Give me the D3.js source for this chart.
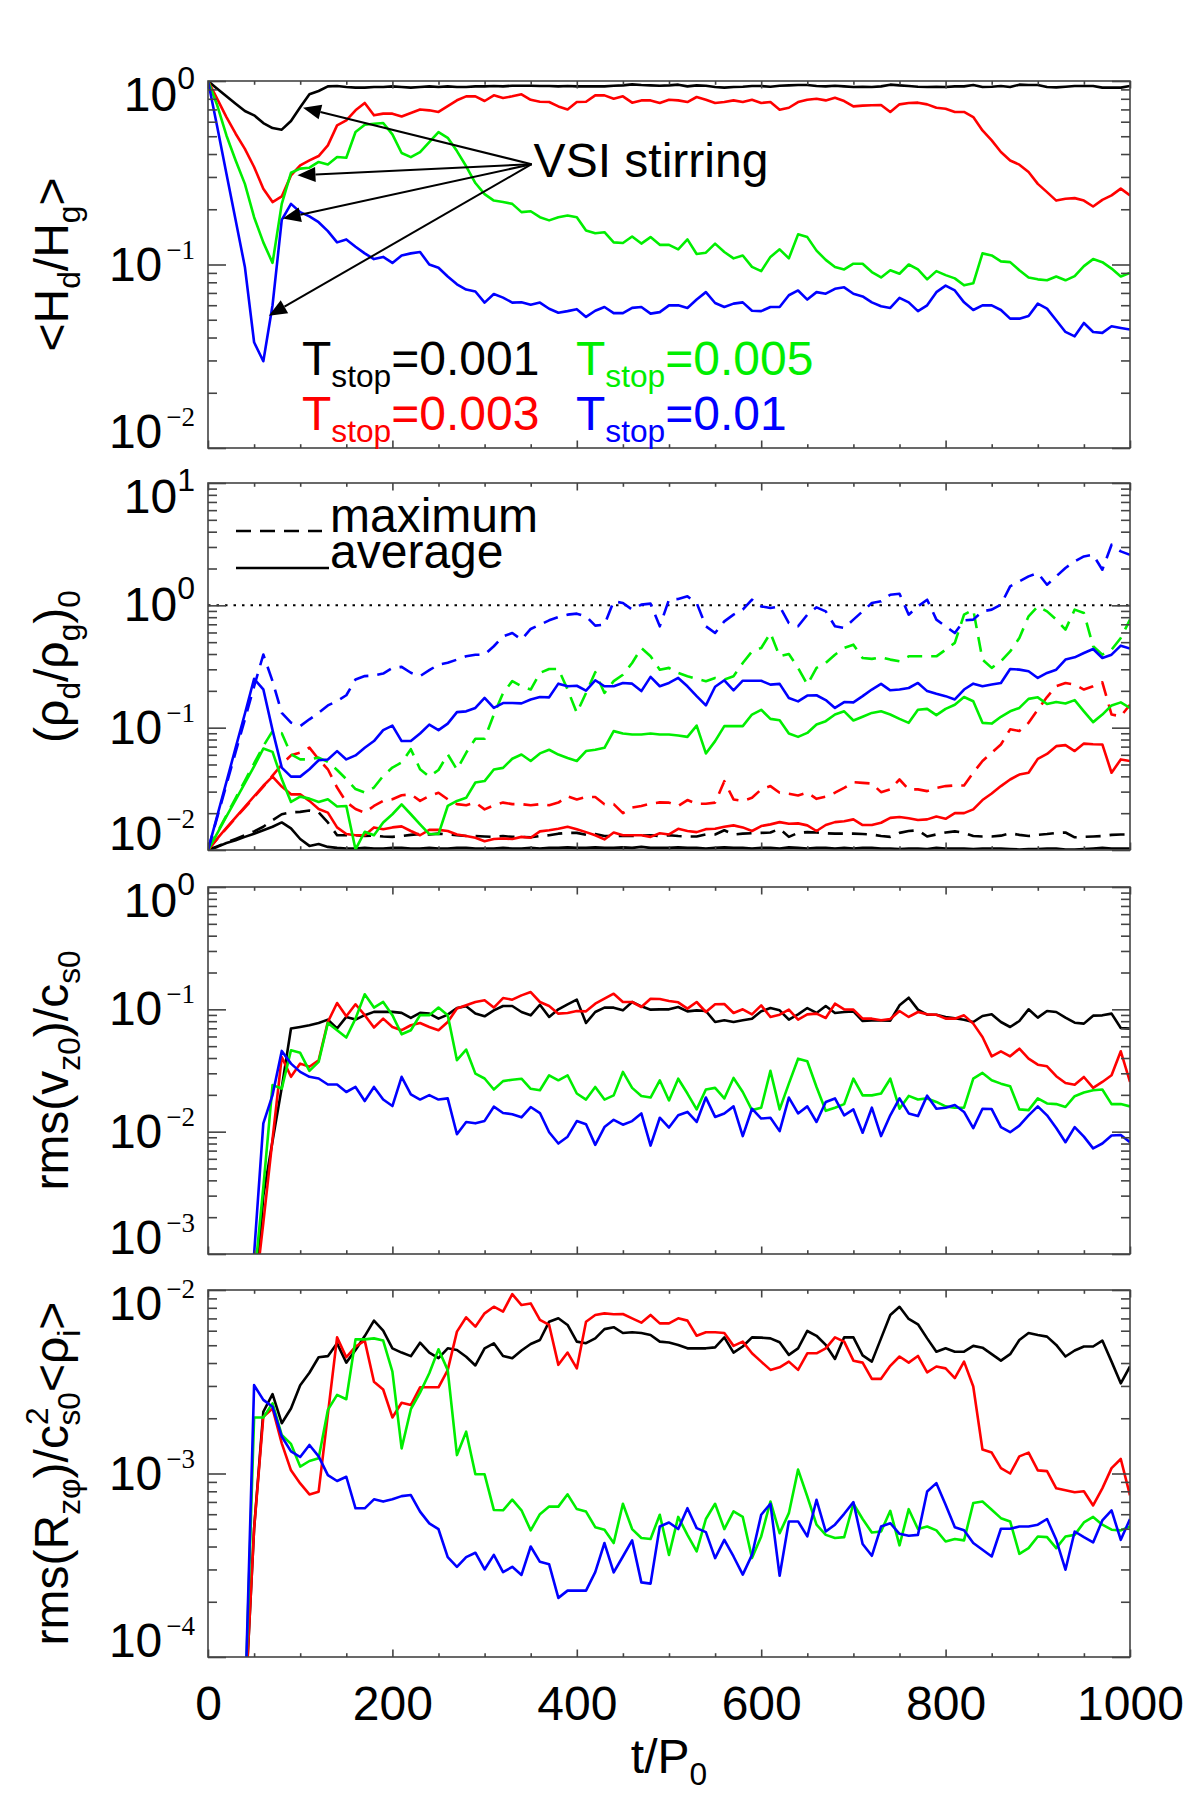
<!DOCTYPE html>
<html><head><meta charset="utf-8">
<script src="https://cdn.jsdelivr.net/npm/d3@7"></script>
<style>
body{margin:0;background:#fff;}
text{font-family:"Liberation Sans", Arial, Helvetica, sans-serif;fill:#000;}
</style></head>
<body><svg id="chart" width="1200" height="1800"></svg>
<script>
// ---------------- DATA ----------------
const time = [0,10,20,30,40,50,60,70,80,90,100,110,120,130,140,150,160,170,180,190,200,210,220,230,240,250,260,270,280,290,300,310,320,330,340,350,360,370,380,390,400,410,420,430,440,450,460,470,480,490,500,510,520,530,540,550,560,570,580,590,600,610,620,630,640,650,660,670,680,690,700,710,720,730,740,750,760,770,780,790,800,810,820,830,840,850,860,870,880,890,900,910,920,930,940,950,960,970,980,990,1000];
const xTickLabels = [0,200,400,600,800,1000];
const yExponents = [[-2,-1,0],[-2,-1,0,1],[-3,-2,-1,0],[-4,-3,-2]];
const legendLabels = ["0.001","0.003","0.005","0.01"];

// Panel 1: <Hd/Hg>
const hdBlack = [1.0,0.908,0.825,0.752,0.686,0.65,0.59,0.554,0.543,0.605,
0.72,0.846,0.882,0.935,0.939,0.927,0.92,0.92,0.927,0.927,
0.935,0.927,0.92,0.927,0.935,0.927,0.935,0.927,0.927,0.935,
0.935,0.939,0.935,0.943,0.943,0.943,0.939,0.939,0.935,0.939,
0.935,0.935,0.935,0.935,0.943,0.947,0.959,0.951,0.947,0.943,
0.947,0.955,0.935,0.947,0.943,0.927,0.92,0.927,0.931,0.939,
0.939,0.931,0.943,0.947,0.951,0.951,0.939,0.935,0.943,0.935,
0.927,0.931,0.927,0.935,0.955,0.947,0.939,0.931,0.927,0.931,
0.927,0.935,0.935,0.951,0.927,0.931,0.939,0.927,0.955,0.951,
0.951,0.927,0.923,0.931,0.939,0.939,0.939,0.92,0.92,0.92,
0.939];
const hdRed = [1.0,0.80,0.636,0.516,0.427,0.34,0.259,0.219,0.235,0.306,
0.347,0.369,0.39,0.446,0.573,0.61,0.692,0.759,0.65,0.664,
0.664,0.641,0.669,0.70,0.692,0.678,0.73,0.785,0.825,0.825,
0.778,0.835,0.808,0.825,0.846,0.79,0.771,0.768,0.727,0.70,
0.768,0.771,0.835,0.835,0.80,0.825,0.762,0.784,0.784,0.759,
0.791,0.784,0.768,0.818,0.791,0.759,0.768,0.784,0.768,0.791,
0.759,0.768,0.698,0.715,0.768,0.791,0.80,0.784,0.811,0.778,
0.727,0.734,0.737,0.74,0.678,0.746,0.759,0.762,0.746,0.715,
0.706,0.678,0.678,0.636,0.538,0.475,0.41,0.369,0.35,0.319,
0.275,0.248,0.223,0.228,0.23,0.223,0.207,0.225,0.238,0.259,
0.238];
const hdGreen = [1.0,0.737,0.505,0.369,0.275,0.181,0.132,0.102,0.214,0.316,
0.333,0.337,0.362,0.351,0.385,0.382,0.527,0.578,0.585,0.59,
0.512,0.405,0.385,0.41,0.465,0.527,0.49,0.415,0.343,0.278,
0.242,0.223,0.219,0.214,0.193,0.195,0.181,0.174,0.181,0.185,
0.181,0.153,0.148,0.15,0.132,0.131,0.142,0.13,0.141,0.128,
0.128,0.121,0.137,0.114,0.116,0.13,0.117,0.108,0.112,0.097,
0.092,0.11,0.121,0.108,0.146,0.141,0.119,0.106,0.097,0.094,
0.101,0.101,0.091,0.085,0.093,0.089,0.1,0.094,0.083,0.092,
0.0875,0.084,0.077,0.079,0.115,0.112,0.104,0.103,0.093,0.085,
0.083,0.082,0.086,0.082,0.0865,0.098,0.107,0.103,0.095,0.086,
0.09];
const hdBlue = [1.0,0.563,0.312,0.174,0.097,0.0377,0.0297,0.06,0.175,0.214,
0.193,0.183,0.17,0.152,0.132,0.137,0.125,0.115,0.107,0.11,
0.102,0.112,0.115,0.117,0.10,0.096,0.086,0.078,0.073,0.0713,
0.062,0.069,0.066,0.062,0.0623,0.0604,0.062,0.0574,0.0546,0.0557,
0.0571,0.0518,0.056,0.0587,0.0543,0.0543,0.058,0.0587,0.054,0.055,
0.0599,0.0599,0.058,0.0644,0.0707,0.0617,0.0587,0.0612,0.0622,0.056,
0.0557,0.0587,0.0587,0.068,0.0722,0.0644,0.0707,0.0693,0.0737,0.0751,
0.0693,0.067,0.0622,0.0592,0.058,0.0658,0.0622,0.0557,0.0599,0.0707,
0.0767,0.0722,0.0622,0.0565,0.0599,0.0599,0.0565,0.0507,0.0507,0.0524,
0.0612,0.0575,0.0497,0.0429,0.0406,0.048,0.0429,0.0424,0.0461,0.0451,
0.0442];

// Panel 2: (rho_d/rho_g)_0  average (solid) and maximum (dashed)
const rhoAvgBlack = [0.01,0.0106,0.0114,0.012,0.0128,0.0136,0.0145,0.0155,0.0168,0.015,
0.0123,0.0108,0.0112,0.0106,0.0104,0.0103,0.0103,0.0104,0.0103,0.0103,
0.0104,0.0104,0.0103,0.0103,0.0104,0.0103,0.0103,0.0104,0.0104,0.0103,
0.0103,0.0103,0.0104,0.0103,0.0103,0.0104,0.0103,0.0104,0.0104,0.0105,
0.0104,0.0104,0.0105,0.0104,0.0104,0.0105,0.0104,0.0106,0.0104,0.0104,
0.0104,0.0105,0.0104,0.0104,0.0103,0.0104,0.0105,0.0104,0.0104,0.0103,
0.0104,0.0104,0.0103,0.0105,0.0104,0.0103,0.0104,0.0104,0.0103,0.0104,
0.0103,0.0104,0.0104,0.0103,0.0103,0.0102,0.0103,0.0103,0.0102,0.0104,
0.0103,0.0103,0.0103,0.0102,0.0103,0.0103,0.0103,0.0102,0.0101,0.0102,
0.0102,0.0103,0.0103,0.0101,0.0101,0.0102,0.0103,0.0104,0.0103,0.0103,
0.0103];
const rhoMaxBlack = [0.01,0.0107,0.0115,0.0123,0.0132,0.0142,0.0155,0.0175,0.0196,0.0203,
0.0205,0.021,0.0203,0.0168,0.0132,0.0132,0.0132,0.013,0.0131,0.0129,
0.0128,0.013,0.0133,0.0135,0.0134,0.0136,0.0134,0.0132,0.013,0.013,
0.0129,0.0128,0.013,0.0128,0.0128,0.0127,0.013,0.0132,0.0136,0.0138,
0.0138,0.0133,0.0135,0.013,0.013,0.013,0.013,0.0131,0.0132,0.013,
0.0132,0.013,0.0129,0.0129,0.0134,0.0134,0.0145,0.0134,0.0136,0.0137,
0.0138,0.0139,0.0149,0.0128,0.0138,0.014,0.0139,0.0137,0.0136,0.0136,
0.0136,0.0135,0.0134,0.013,0.0128,0.0138,0.0143,0.0145,0.0129,0.0134,
0.0139,0.0142,0.0138,0.013,0.0129,0.0129,0.0131,0.0137,0.0133,0.013,
0.0133,0.0135,0.0138,0.0139,0.0127,0.0128,0.0129,0.013,0.0133,0.0134,
0.0134];
const rhoAvgRed = [0.01,0.0124,0.0152,0.0185,0.0225,0.0275,0.0335,0.0398,0.033,0.0285,
0.0285,0.0252,0.0216,0.0202,0.0153,0.0135,0.0132,0.0132,0.0153,0.0148,
0.0153,0.0156,0.0143,0.0132,0.0146,0.0146,0.0143,0.0134,0.013,0.0126,
0.0118,0.0123,0.0124,0.0123,0.0128,0.0126,0.0142,0.0145,0.0149,0.0155,
0.0148,0.014,0.0132,0.0122,0.0139,0.0132,0.0132,0.0132,0.0128,0.0137,
0.0134,0.0149,0.0143,0.014,0.0148,0.0149,0.0155,0.0159,0.0153,0.0143,
0.0157,0.0162,0.0169,0.0164,0.0165,0.0159,0.0143,0.016,0.0169,0.0172,
0.0178,0.016,0.016,0.0167,0.0183,0.0186,0.0182,0.0176,0.0178,0.0188,
0.018,0.02,0.02,0.0215,0.0256,0.029,0.0333,0.0377,0.0414,0.0428,
0.0556,0.061,0.0706,0.072,0.0644,0.0741,0.0732,0.0729,0.0428,0.055,
0.0534];
const rhoMaxRed = [0.01,0.0123,0.015,0.0183,0.0222,0.027,0.033,0.0405,0.05,0.0594,
0.0625,0.0687,0.0551,0.0457,0.0324,0.0247,0.0216,0.0202,0.0229,0.0252,
0.026,0.028,0.0285,0.0252,0.0277,0.0294,0.026,0.0237,0.0232,0.0244,
0.0215,0.0232,0.0244,0.0237,0.0237,0.0232,0.0237,0.0232,0.0244,0.0275,
0.0259,0.0271,0.0271,0.0237,0.0237,0.02,0.0222,0.0229,0.0239,0.0245,
0.0244,0.0229,0.0256,0.0239,0.0239,0.0244,0.0365,0.0259,0.0252,0.0267,
0.0313,0.0333,0.0294,0.0288,0.0279,0.0294,0.0262,0.0273,0.0294,0.0322,
0.0358,0.0354,0.0349,0.0297,0.0313,0.0377,0.0313,0.0313,0.0303,0.0322,
0.0333,0.0337,0.0337,0.0428,0.0534,0.0623,0.0728,0.0969,0.094,0.1095,
0.1404,0.178,0.218,0.232,0.225,0.205,0.218,0.235,0.128,0.124,
0.154];
const rhoAvgGreen = [0.01,0.0137,0.0188,0.0257,0.0352,0.0483,0.0675,0.0634,0.038,0.0247,
0.0273,0.0263,0.0247,0.026,0.0227,0.0229,0.0101,0.0141,0.0132,0.0168,
0.0196,0.0236,0.0196,0.0162,0.0135,0.0135,0.0229,0.0252,0.0267,0.0356,
0.0366,0.0455,0.0469,0.0557,0.0603,0.0534,0.0616,0.066,0.0603,0.0566,
0.0534,0.0644,0.066,0.0684,0.0937,0.0896,0.0879,0.0879,0.0896,0.0879,
0.0879,0.0862,0.0841,0.104,0.0616,0.0776,0.103,0.103,0.103,0.128,
0.14,0.118,0.115,0.0896,0.0841,0.0906,0.106,0.113,0.128,0.136,
0.1145,0.1227,0.132,0.136,0.128,0.118,0.1095,0.14,0.1424,0.1265,
0.1424,0.154,0.178,0.1645,0.1095,0.108,0.1227,0.136,0.145,0.172,
0.177,0.156,0.162,0.1575,0.168,0.136,0.111,0.128,0.152,0.161,
0.145];
const rhoMaxGreen = [0.01,0.0139,0.0192,0.0266,0.0368,0.051,0.0707,0.0937,0.09,0.0605,
0.0551,0.0551,0.0569,0.0525,0.0451,0.038,0.0315,0.0295,0.0324,0.0404,
0.0472,0.0519,0.0667,0.0457,0.0398,0.0451,0.0605,0.0455,0.0623,0.0811,
0.0811,0.128,0.192,0.24,0.218,0.205,0.28,0.302,0.302,0.205,
0.132,0.192,0.284,0.192,0.24,0.271,0.338,0.448,0.383,0.298,
0.308,0.28,0.263,0.25,0.24,0.255,0.247,0.263,0.338,0.42,
0.448,0.594,0.383,0.40,0.308,0.225,0.308,0.338,0.395,0.448,
0.477,0.371,0.365,0.376,0.36,0.349,0.383,0.383,0.383,0.383,
0.434,0.493,0.839,0.922,0.36,0.308,0.349,0.42,0.541,0.813,
0.981,0.893,0.764,0.633,0.922,0.866,0.463,0.395,0.434,0.541,
0.764];
const rhoAvgBlue = [0.01,0.019,0.0361,0.0686,0.13,0.251,0.206,0.0955,0.0471,0.0398,
0.0398,0.0457,0.0542,0.055,0.0643,0.055,0.0593,0.0685,0.0777,0.0955,
0.104,0.0777,0.0777,0.0897,0.106,0.0955,0.108,0.134,0.136,0.145,
0.175,0.145,0.159,0.159,0.158,0.17,0.178,0.177,0.229,0.218,
0.22,0.201,0.244,0.218,0.218,0.232,0.229,0.199,0.26,0.218,
0.232,0.255,0.218,0.181,0.152,0.216,0.244,0.202,0.242,0.242,
0.242,0.225,0.228,0.175,0.164,0.183,0.184,0.168,0.145,0.162,
0.161,0.181,0.205,0.228,0.202,0.205,0.211,0.232,0.199,0.189,
0.181,0.17,0.205,0.229,0.218,0.225,0.232,0.302,0.298,0.289,
0.255,0.28,0.298,0.36,0.376,0.408,0.44,0.371,0.395,0.468,
0.443];
const rhoMaxBlue = [0.01,0.0185,0.0342,0.0633,0.117,0.217,0.396,0.24,0.132,0.11,
0.103,0.117,0.132,0.152,0.165,0.184,0.248,0.264,0.267,0.277,
0.308,0.314,0.281,0.264,0.295,0.328,0.339,0.36,0.383,0.395,
0.395,0.463,0.558,0.594,0.524,0.641,0.695,0.754,0.803,0.839,
0.855,0.813,0.682,0.695,1.078,1.045,0.922,1.013,1.032,0.674,
1.112,1.126,1.184,1.045,0.674,0.594,0.74,0.839,0.922,1.112,
0.981,0.951,0.981,0.717,0.674,0.839,0.963,0.893,0.674,0.653,
0.764,0.893,1.045,1.078,1.222,1.245,0.839,0.981,1.112,0.764,
0.674,0.594,0.754,0.764,0.893,0.922,1.013,1.43,1.57,1.725,
1.836,1.475,1.725,2.02,2.29,2.51,2.59,1.955,3.13,2.76,
2.59];

// Panel 3: rms(vz0)/cs0
const vzBlack = [null,null,null,null,0.00001,0.0003,0.003,0.0084,0.0229,0.0697,
0.0718,0.0741,0.0774,0.0824,0.0697,0.0867,0.0824,0.0896,0.0953,0.0953,
0.0953,0.0935,0.0851,0.0935,0.0923,0.084,0.0905,0.1026,0.1059,0.0923,
0.0877,0.0981,0.1065,0.1065,0.0951,0.0893,0.109,0.0866,0.1,0.1099,
0.12,0.0773,0.0951,0.1032,0.1032,0.0981,0.1148,0.1058,0.0994,0.1,
0.1,0.1045,0.0963,0.0981,0.0969,0.0788,0.0813,0.0788,0.0813,0.0839,
0.0963,0.1025,0.0981,0.0823,0.091,0.1025,0.0934,0.1065,0.0934,0.0951,
0.0963,0.0803,0.0813,0.0813,0.0808,0.1078,0.1245,0.0994,0.0904,0.0904,
0.0866,0.0845,0.0823,0.0788,0.0882,0.091,0.0788,0.0717,0.0803,0.1,
0.0855,0.0969,0.0951,0.0855,0.0778,0.0764,0.0888,0.0893,0.0922,0.0704,
0.0695];
const vzRed = [null,null,null,null,0.00001,0.0004,0.0018,0.0087,0.0408,0.0281,
0.036,0.0339,0.0384,0.0789,0.1127,0.0877,0.110,0.0896,0.071,0.084,
0.0718,0.0675,0.0741,0.0774,0.0718,0.0675,0.0789,0.1014,0.108,0.115,
0.1187,0.1033,0.1237,0.1199,0.1301,0.1385,0.1148,0.1065,0.0922,0.0934,
0.0969,0.0963,0.1112,0.1222,0.1342,0.1148,0.1148,0.1045,0.1222,0.1214,
0.117,0.1141,0.1013,0.1148,0.0951,0.1099,0.1106,0.0934,0.1,0.091,
0.1078,0.0866,0.0904,0.0994,0.0823,0.091,0.0922,0.085,0.1112,0.1,
0.0994,0.0839,0.0839,0.0813,0.0834,0.0969,0.0866,0.0951,0.091,0.0904,
0.0839,0.0839,0.0893,0.0764,0.0594,0.0413,0.0454,0.0413,0.0477,0.0395,
0.0353,0.0342,0.0284,0.025,0.0242,0.028,0.0228,0.0255,0.0289,0.0454,
0.0255];
const vzGreen = [null,null,null,null,0.00001,0.0006,0.0035,0.024,0.0225,0.0463,
0.0441,0.0314,0.0372,0.0774,0.0675,0.0588,0.084,0.1328,0.1033,0.115,
0.0896,0.0625,0.0675,0.0896,0.0896,0.1033,0.0896,0.0384,0.0469,0.0298,
0.0272,0.0221,0.0259,0.0266,0.0271,0.0224,0.0218,0.0289,0.0263,0.0289,
0.0205,0.0183,0.0232,0.0183,0.0198,0.0308,0.0228,0.0196,0.019,0.0263,
0.018,0.0271,0.0205,0.0152,0.0221,0.0228,0.0187,0.0275,0.0211,0.015,
0.0157,0.0314,0.0152,0.0247,0.0395,0.0376,0.0232,0.0148,0.0157,0.0168,
0.0271,0.0198,0.0198,0.0205,0.0271,0.0154,0.0196,0.0183,0.0187,0.0175,
0.0161,0.0157,0.0157,0.0271,0.0302,0.0263,0.0247,0.0235,0.0152,0.015,
0.0187,0.017,0.0168,0.0159,0.0195,0.0209,0.0218,0.0221,0.0168,0.0168,
0.0161];
const vzBlue = [null,null,null,null,0.00001,0.001,0.0117,0.0199,0.0457,0.036,
0.0308,0.0281,0.0272,0.0243,0.0243,0.0211,0.0232,0.0178,0.0232,0.0183,
0.0162,0.0281,0.0202,0.0183,0.0199,0.0183,0.0187,0.00953,0.012,0.0117,
0.01225,0.016,0.0142,0.0139,0.0131,0.0159,0.0142,0.0099,0.008,0.0091,
0.0122,0.0115,0.0078,0.0109,0.0125,0.0114,0.0122,0.0141,0.0077,0.013,
0.0108,0.0136,0.0145,0.012,0.019,0.0132,0.0141,0.0161,0.0092,0.0154,
0.0128,0.013,0.0101,0.019,0.0141,0.0161,0.012,0.0175,0.0187,0.0136,
0.0152,0.0098,0.0157,0.0092,0.0136,0.0187,0.0141,0.0134,0.0197,0.0154,
0.0157,0.0165,0.0145,0.0107,0.0154,0.0153,0.0109,0.0099,0.0112,0.0136,
0.0161,0.0136,0.0107,0.0082,0.0109,0.0091,0.0073,0.008,0.0093,0.0094,
0.0082];

// Panel 4: rms(R_zphi)/cs0^2<rho_i>
const rzBlack = [null,null,null,null,0.00005,0.0005,0.00217,0.00271,0.00188,0.00226,
0.00303,0.00354,0.0043,0.00436,0.00512,0.00402,0.00471,0.00561,0.00681,0.006,
0.00481,0.00456,0.00436,0.00516,0.00456,0.00425,0.00481,0.00471,0.00433,0.00388,
0.00481,0.00512,0.00437,0.00425,0.00468,0.00508,0.00534,0.00672,0.00701,0.00645,
0.00523,0.00513,0.00545,0.00612,0.00627,0.00583,0.00588,0.00583,0.00569,0.00523,
0.00517,0.00502,0.00481,0.00481,0.00481,0.00487,0.00552,0.00456,0.00492,0.00552,
0.0055,0.00545,0.00519,0.00443,0.00481,0.00598,0.00563,0.00502,0.00421,0.00552,
0.00552,0.0044,0.00407,0.00545,0.00731,0.0081,0.00695,0.0065,0.00545,0.00461,
0.00481,0.00461,0.00461,0.00496,0.00485,0.00447,0.00412,0.00447,0.00534,0.00583,
0.00569,0.00557,0.00502,0.00434,0.00468,0.00492,0.00492,0.0053,0.00407,0.0031,
0.00383];
const rzRed = [null,null,null,null,0.00005,0.0005,0.00204,0.00226,0.00146,0.00104,
0.000883,0.000769,0.000796,0.0021,0.00552,0.0043,0.00491,0.0053,0.00316,0.00287,
0.00202,0.00243,0.00236,0.00295,0.00295,0.00295,0.00366,0.00593,0.0071,0.00631,
0.00746,0.00811,0.00762,0.0095,0.00828,0.00845,0.00687,0.00645,0.00391,0.00456,
0.00374,0.00672,0.00731,0.00746,0.00737,0.0074,0.00701,0.00664,0.00731,0.00658,
0.00658,0.00701,0.00681,0.00563,0.00588,0.00588,0.00583,0.00496,0.00523,0.00452,
0.00407,0.00367,0.00379,0.00407,0.00367,0.00452,0.00452,0.00481,0.00552,0.00523,
0.00412,0.00402,0.00328,0.00328,0.00386,0.00434,0.00402,0.00437,0.00356,0.00383,
0.00374,0.00331,0.00407,0.00298,0.00135,0.0013,0.00107,0.001,0.00124,0.0013,
0.00104,0.00103,0.00083,0.00081,0.00079,0.0008,0.00067,0.00083,0.00107,0.0012,
0.00076];
const rzGreen = [null,null,null,null,0.00005,0.00202,0.00202,0.00241,0.00162,0.00145,
0.00109,0.00117,0.00121,0.00222,0.00268,0.00254,0.00538,0.00538,0.00545,0.0053,
0.00359,0.00137,0.00224,0.00276,0.00352,0.00475,0.00366,0.00126,0.00169,0.00099,
0.00099,0.000633,0.00063,0.00072,0.00063,0.00049,0.0006,0.00066,0.00066,0.00077,
0.00064,0.00062,0.00051,0.000494,0.000418,0.000684,0.000498,0.000445,0.00044,0.000596,
0.00036,0.00058,0.000463,0.000376,0.000565,0.000684,0.000498,0.000621,0.00058,0.000346,
0.000454,0.000704,0.000473,0.000608,0.00105,0.000749,0.000526,0.000463,0.000445,0.00045,
0.000684,0.000565,0.000477,0.000483,0.000626,0.000406,0.000639,0.000498,0.000514,0.00049,
0.000426,0.00044,0.000432,0.00069,0.000704,0.000634,0.000571,0.000548,0.000365,0.000392,
0.000454,0.00045,0.000392,0.000454,0.000463,0.000541,0.00058,0.000526,0.000494,0.00049,
0.000514];
const rzBlue = [null,null,null,null,0.00005,0.00303,0.00252,0.00231,0.00159,0.00132,
0.00123,0.00143,0.00124,0.00098,0.00091,0.00096,0.000646,0.000646,0.000723,0.000703,
0.000723,0.000753,0.000763,0.00062,0.000535,0.000497,0.00035,0.00031,0.00035,0.00037,
0.0003,0.00036,0.00029,0.00031,0.00028,0.0004,0.00033,0.00032,0.00021,0.00023,
0.00023,0.00023,0.00029,0.000418,0.000289,0.000353,0.000432,0.000255,0.000251,0.000514,
0.000541,0.000498,0.000647,0.000504,0.000479,0.000346,0.000435,0.000353,0.000281,0.00036,
0.000596,0.000684,0.000277,0.000548,0.000548,0.000454,0.000719,0.000483,0.000526,0.000603,
0.000698,0.000413,0.000356,0.000514,0.000536,0.000469,0.000458,0.000463,0.000798,0.000886,
0.000675,0.00051,0.00049,0.000418,0.000384,0.000353,0.0005,0.0005,0.000514,0.000514,
0.000526,0.000565,0.000435,0.000299,0.000483,0.00045,0.000421,0.000555,0.000629,0.000435,
0.000565];

// Annotation: "VSI stirring" arrows (data coordinates t, value in panel 1)
const arrowFrom = [351, 0.352];
const arrowTips = [[103, 0.715],[97, 0.306],[81, 0.178],[66, 0.0526]];

// ---------------- DRAWING ----------------
const svg = d3.select('#chart');
svg.append('rect').attr('width',1200).attr('height',1800).attr('fill','#fff');
const X0 = 208, X1 = 1130, PH = 367;
const tops = [81, 483, 887, 1290];
const FS = 48, SUBFS = 32;
const COL = {black:'#000000', red:'#ff0000', green:'#00ee00', blue:'#0000ff'};
const AXC = '#444';
const x = d3.scaleLinear().domain([0,1000]).range([X0, X1]);

function rich(sel, parts, size){
  let cur = 0;
  parts.forEach(p => {
    const off = p.sub ? size*0.25 : (p.sup ? -size*0.42 : 0);
    const ts = sel.append('tspan').text(p.t).attr('dy', off - cur)
      .attr('font-size', (p.sub || p.sup) ? size*0.66 : size);
    if (p.dx) ts.attr('dx', p.dx);
    cur = off;
  });
}

const panels = [
  {domain:[1e-2,1], title:[{t:'<H'},{t:'d',sub:1},{t:'/H'},{t:'g',sub:1},{t:'>'}],
   series:[{d:hdBlack,c:'black'},{d:hdRed,c:'red'},{d:hdGreen,c:'green'},{d:hdBlue,c:'blue'}]},
  {domain:[1e-2,10], title:[{t:'(\u03c1'},{t:'d',sub:1},{t:'/\u03c1'},{t:'g',sub:1},{t:')'},{t:'0',sub:1}],
   series:[{d:rhoAvgBlack,c:'black'},{d:rhoMaxBlack,c:'black',dash:1},
           {d:rhoAvgRed,c:'red'},{d:rhoMaxRed,c:'red',dash:1},
           {d:rhoAvgGreen,c:'green'},{d:rhoMaxGreen,c:'green',dash:1},
           {d:rhoAvgBlue,c:'blue'},{d:rhoMaxBlue,c:'blue',dash:1}]},
  {domain:[1e-3,1], title:[{t:'rms(v'},{t:'z0',sub:1},{t:')/c'},{t:'s0',sub:1}],
   series:[{d:vzBlack,c:'black'},{d:vzRed,c:'red'},{d:vzGreen,c:'green'},{d:vzBlue,c:'blue'}]},
  {domain:[1e-4,1e-2], title:[{t:'rms(R'},{t:'z\u03c6',sub:1},{t:')/c'},{t:'2',sup:1},{t:'s0',sub:1,dx:-18},{t:'<\u03c1'},{t:'i',sub:1},{t:'>'}],
   series:[{d:rzBlack,c:'black'},{d:rzRed,c:'red'},{d:rzGreen,c:'green'},{d:rzBlue,c:'blue'}]}
];

const yScales = [];
panels.forEach((p, i) => {
  const top = tops[i], bot = top + PH;
  const y = d3.scaleLog().domain(p.domain).range([bot, top]);
  yScales.push(y);
  const clipId = 'clip' + i;
  svg.append('clipPath').attr('id', clipId).append('rect')
    .attr('x', X0).attr('y', top).attr('width', X1 - X0).attr('height', PH);

  // dotted reference line at 1 in panel 2
  if (i === 1) {
    svg.append('line').attr('x1', X0).attr('x2', X1).attr('y1', y(1)).attr('y2', y(1))
      .attr('stroke', '#000').attr('stroke-width', 2).attr('stroke-dasharray', '2.5,6');
  }

  const line = d3.line().defined(d => d[1] != null).x(d => x(d[0])).y(d => y(d[1]));
  const g = svg.append('g').attr('clip-path', `url(#${clipId})`);
  p.series.forEach(s => {
    g.append('path').attr('d', line(time.map((t, k) => [t, s.d[k]])))
      .attr('fill', 'none').attr('stroke', COL[s.c]).attr('stroke-width', 2.6)
      .attr('stroke-linejoin', 'round')
      .attr('stroke-dasharray', s.dash ? '15,9' : null);
  });

  // axes (ticks inward)
  const majX = d3.range(0, 1001, 200), minX = d3.range(0, 1001, 50).filter(v => v % 200);
  const allTicks = y.ticks();
  const majY = allTicks.filter(v => Math.abs(Math.log10(v) - Math.round(Math.log10(v))) < 1e-9);
  const minY = allTicks.filter(v => Math.abs(Math.log10(v) - Math.round(Math.log10(v))) >= 1e-9);
  const axes = svg.append('g');
  const add = (axis, tr) => {
    const a = axes.append('g').attr('transform', tr).call(axis);
    a.select('.domain').remove();
    a.selectAll('line').attr('stroke', AXC).attr('stroke-width', 1.6);
  };
  add(d3.axisBottom(x).tickValues(majX).tickSize(-7.5).tickFormat(''), `translate(0,${bot})`);
  add(d3.axisBottom(x).tickValues(minX).tickSize(-3.8).tickFormat(''), `translate(0,${bot})`);
  add(d3.axisTop(x).tickValues(majX).tickSize(-7.5).tickFormat(''), `translate(0,${top})`);
  add(d3.axisTop(x).tickValues(minX).tickSize(-3.8).tickFormat(''), `translate(0,${top})`);
  add(d3.axisLeft(y).tickValues(majY).tickSize(-18).tickFormat(''), `translate(${X0},0)`);
  add(d3.axisLeft(y).tickValues(minY).tickSize(-9).tickFormat(''), `translate(${X0},0)`);
  add(d3.axisRight(y).tickValues(majY).tickSize(-18).tickFormat(''), `translate(${X1},0)`);
  add(d3.axisRight(y).tickValues(minY).tickSize(-9).tickFormat(''), `translate(${X1},0)`);
  svg.append('rect').attr('x', X0).attr('y', top).attr('width', X1 - X0).attr('height', PH)
    .attr('fill', 'none').attr('stroke', AXC).attr('stroke-width', 1.6);

  // y tick labels 10^n
  yExponents[i].forEach(e => {
    const ty = y(Math.pow(10, e));
    let base = ty + 16;
    if (Math.abs(ty - top) < 1) base = top + 30;
    if (Math.abs(ty - bot) < 1) base = bot;
    const t = svg.append('text').attr('x', 195).attr('y', base)
      .attr('text-anchor', 'end').attr('font-size', FS);
    t.append('tspan').text('10');
    const neg = e < 0;
    const ex = t.append('tspan').attr('dy', -22)
      .attr('font-size', neg ? 27 : 32).text(neg ? '\u2212' + (-e) : String(e));
    if (neg) ex.attr('font-family', '"Liberation Serif", "Times New Roman", serif').attr('dx', 4);
  });

  // y title
  const tt = svg.append('text')
    .attr('transform', `translate(68,${(top + bot) / 2}) rotate(-90)`)
    .attr('text-anchor', 'middle').attr('font-size', FS);
  rich(tt, p.title, FS);

  // x tick labels on the bottom panel
  if (i === panels.length - 1) {
    const xa = svg.append('g').attr('transform', `translate(0,${bot})`)
      .call(d3.axisBottom(x).tickValues(xTickLabels).tickSize(0).tickFormat(d3.format('d')));
    xa.select('.domain').remove();
    xa.selectAll('text').attr('font-size', FS).attr('y', 63).attr('dy', null)
      .attr('font-family', '"Liberation Sans", Arial, sans-serif').attr('fill', '#000');
    const xt = svg.append('text').attr('x', 669).attr('y', 1773)
      .attr('text-anchor', 'middle').attr('font-size', FS);
    rich(xt, [{t:'t/P'},{t:'0',sub:1}], FS);
  }
});

// ---- panel 1 annotations ----
const y1 = yScales[0];
const ox = x(arrowFrom[0]), oy = y1(arrowFrom[1]);
arrowTips.forEach(tp => {
  const tx = x(tp[0]), ty = y1(tp[1]);
  const ang = Math.atan2(oy - ty, ox - tx);
  const L = 18, Wd = 7.5;
  const bx = tx + L * Math.cos(ang), by = ty + L * Math.sin(ang);
  svg.append('line').attr('x1', ox).attr('y1', oy).attr('x2', bx).attr('y2', by)
    .attr('stroke', '#000').attr('stroke-width', 2);
  const px = -Math.sin(ang), py = Math.cos(ang);
  svg.append('path').attr('d', `M${tx},${ty}L${bx + px * Wd},${by + py * Wd}L${bx - px * Wd},${by - py * Wd}Z`)
    .attr('fill', '#000');
});
svg.append('text').attr('x', ox + 2).attr('y', oy + 13).attr('font-size', FS).text('VSI stirring');

// legend for stopping times
const legPos = [[302,375,'black'],[302,430,'red'],[576,375,'green'],[576,430,'blue']];
legendLabels.forEach((lab, k) => {
  const [lx, ly, c] = legPos[k];
  const t = svg.append('text').attr('x', lx).attr('y', ly).attr('font-size', FS).attr('fill', COL[c]).style('fill', COL[c]);
  rich(t, [{t:'T'},{t:'stop',sub:1},{t:'=' + lab}], FS);
});

// panel 2 legend
svg.append('line').attr('x1', 236).attr('x2', 322).attr('y1', 531).attr('y2', 531)
  .attr('stroke', '#000').attr('stroke-width', 2.6).attr('stroke-dasharray', '15,9');
svg.append('text').attr('x', 330).attr('y', 532).attr('font-size', FS).text('maximum');
svg.append('line').attr('x1', 236).attr('x2', 329).attr('y1', 568).attr('y2', 568)
  .attr('stroke', '#000').attr('stroke-width', 2.6);
svg.append('text').attr('x', 330).attr('y', 568).attr('font-size', FS).text('average');
</script>
</body></html>
